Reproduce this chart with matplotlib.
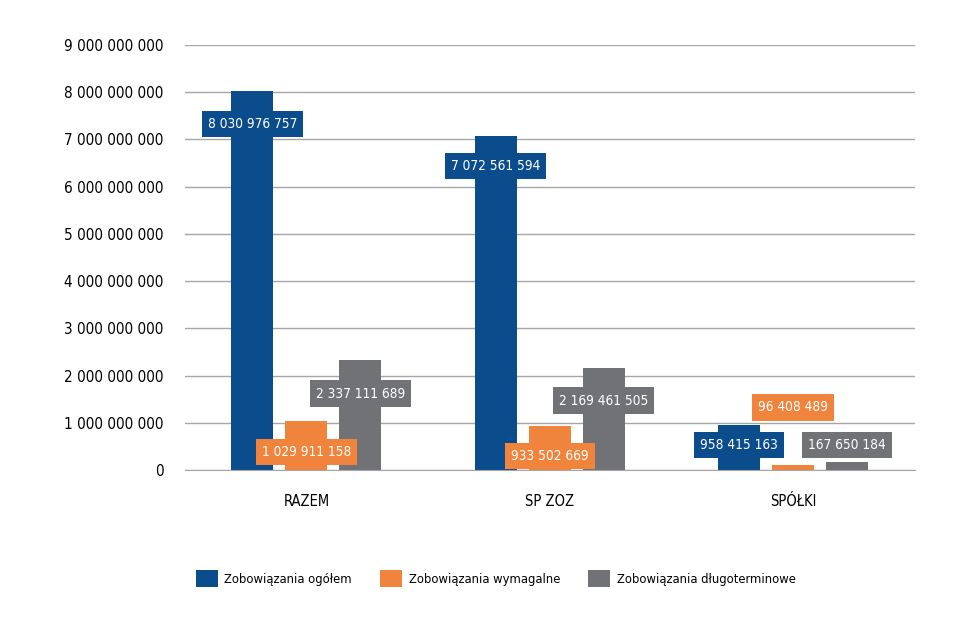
import matplotlib.pyplot as plt
import numpy as np
from matplotlib.ticker import FuncFormatter

plt.rcParams['font.family'] = ['DejaVu Sans']
plt.rcParams['font.stretch'] = 'condensed'

# dane
kategorie = ['RAZEM', 'SP ZOZ', 'SPÓŁKI']
serie = ['Zobowiązania ogółem', 'Zobowiązania wymagalne', 'Zobowiązania długoterminowe']
ogolem = [8030976757, 7072561594, 958415163]
wymagalne = [1029911158, 933502669, 96408489]
dlugoterminowe = [2337111689, 2169461505, 167650184]
kolory = ['#0B4C8C', '#F0843C', '#707275']

def fmt(v):
    return '{:,}'.format(int(v)).replace(',', ' ')

fig = plt.figure(figsize=(9.72, 6.22), dpi=100)
ax = fig.add_axes([0.190, 0.2444, 0.751, 0.6833])

x = np.arange(len(kategorie))
szer = 0.173
krok = 0.222
# przesunięcie etykiet w pikselach względem wierzchołka słupka
przes = [[-33, -30, -20], [-31, -30, 58], [-34, -33, 17]]

for i, (dane, kol) in enumerate(zip([ogolem, wymagalne, dlugoterminowe], kolory)):
    ax.bar(x + (i - 1) * krok, dane, width=szer, color=kol, label=serie[i], zorder=3)
    for j, v in enumerate(dane):
        ax.annotate(fmt(v), (x[j] + (i - 1) * krok, v), xytext=(0, przes[i][j]),
                    textcoords='offset pixels', ha='center', va='center',
                    color='white', fontsize=9.8, zorder=5,
                    bbox=dict(boxstyle='square,pad=0.45', fc=kol, ec='none'))

ax.set_xlim(-0.5, 2.5)
ax.set_ylim(0, 9e9)
ax.set_yticks(np.arange(0, 9.01e9, 1e9))
ax.yaxis.set_major_formatter(FuncFormatter(lambda v, p: fmt(v)))
ax.set_xticks(x)
ax.set_xticklabels(kategorie, fontsize=10.5)
ax.tick_params(axis='y', length=0, pad=15, labelsize=11)
ax.tick_params(axis='x', length=0, pad=17)
ax.grid(axis='y', color='#A6A6A6', linewidth=1, zorder=0)
for s in ax.spines.values():
    s.set_visible(False)
ax.spines['bottom'].set_visible(True)
ax.spines['bottom'].set_color('#A6A6A6')
ax.spines['bottom'].set_zorder(4)

fig.legend(loc='center', bbox_to_anchor=(0.51, 0.07), ncol=3, frameon=False,
           fontsize=9.3, handlelength=1.7, handleheight=1.7, handletextpad=0.5,
           columnspacing=2.2)

plt.savefig('out.png', dpi=100)
